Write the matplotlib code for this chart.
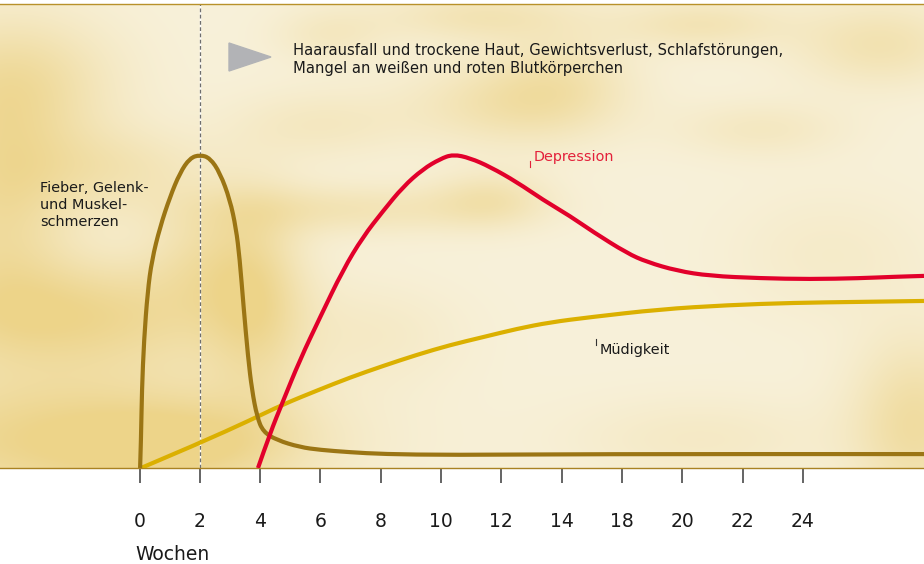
import numpy as np
import matplotlib
matplotlib.use("Agg")
import matplotlib.pyplot as plt
from matplotlib.patches import Polygon, PathPatch
from matplotlib.path import Path

# tick positions and their labels (16 is skipped in the original)
tick_pos = [0, 2, 4, 6, 8, 10, 12, 14, 16, 18, 20, 22]
tick_labels = ["0", "2", "4", "6", "8", "10", "12", "14", "18", "20", "22", "24"]

# symptom curves (x = tick position, y = intensity 0..100)
fever_x = [0.02, 0.05, 0.08, 0.15, 0.27, 0.41, 0.68, 1.01, 1.34, 1.67, 2.01, 2.34,
           2.67, 3.00, 3.20, 3.32, 3.45, 3.60, 3.73, 3.90, 4.10, 4.56, 5.32, 5.99,
           6.98, 8.08, 10.30, 14.94, 26.02]
fever_y = [0.0, 6.0, 16.8, 27.6, 38.0, 44.8, 51.9, 58.4, 63.6, 66.8, 67.5, 66.8,
           63.6, 57.8, 51.7, 45.3, 34.9, 23.9, 16.8, 11.0, 7.8, 6.0, 4.5, 3.9,
           3.4, 3.0, 2.8, 3.0, 3.0]

depr_x = [3.93, 4.33, 4.76, 5.32, 5.99, 6.75, 7.41, 8.08, 8.74, 9.40, 9.97, 10.40,
          10.96, 11.63, 12.52, 13.38, 14.28, 15.04, 16.17, 16.83, 17.83, 18.92,
          20.58, 22.24, 23.89, 24.99, 26.02]
depr_y = [0.0, 7.5, 14.4, 23.3, 32.5, 42.7, 49.8, 55.4, 60.6, 64.4, 66.6, 67.6,
          66.8, 64.9, 61.6, 57.8, 54.3, 50.9, 46.3, 44.4, 42.5, 41.4,
          40.9, 40.7, 40.9, 41.2, 41.4]

tired_x = [0.05, 2.01, 3.67, 4.76, 5.89, 6.98, 8.08, 9.20, 10.30, 11.39, 12.52,
           13.62, 14.94, 17.26, 19.49, 21.68, 23.89, 26.02]
tired_y = [0.0, 5.4, 10.3, 13.7, 16.7, 19.5, 22.0, 24.4, 26.5, 28.2, 30.0,
           31.4, 32.5, 34.2, 35.1, 35.6, 35.8, 36.0]

c_fever = "#9b7514"
c_depr = "#e2002b"
c_tired = "#dbb000"

W, H = 924, 564
fig = plt.figure(figsize=(W / 100, H / 100), dpi=100)
ax = fig.add_axes([0, (H - 468) / H, 1, 464 / H])

xmin, xmax = -139.5 / 30.15, (924 - 139.5) / 30.15

# mottled paper background
bw, bh = 924, 464
yy, xx = np.mgrid[0:bh, 0:bw]
blobs = [  # cx, cy, sx, sy, strength (pixels, from top-left)
    (15, 80, 70, 50, 0.7), (70, 310, 120, 40, 0.9), (60, 435, 160, 50, 0.95),
    (0, 200, 50, 70, 0.7), (255, 290, 35, 70, 0.7), (340, 205, 110, 18, 0.45),
    (490, 195, 40, 20, 0.45), (505, 100, 70, 30, 0.5), (560, 75, 50, 35, 0.4),
    (480, 12, 70, 18, 0.45), (700, 20, 60, 18, 0.45), (880, 40, 60, 30, 0.5),
    (760, 125, 60, 20, 0.3), (915, 420, 45, 60, 0.7), (700, 435, 90, 30, 0.25),
    (190, 440, 80, 30, 0.5), (380, 330, 60, 35, 0.2), (830, 250, 70, 45, 0.2),
    (320, 120, 60, 25, 0.3), (110, 165, 70, 30, 0.45), (330, 30, 40, 20, 0.3),
    (200, 250, 40, 40, 0.4),
]
shade = np.zeros((bh, bw))
for cx, cy, sx, sy, a in blobs:
    shade += a * np.exp(-0.5 * ((xx - cx) / sx) ** 2 - 0.5 * ((yy - cy) / sy) ** 2)
shade = np.clip(shade, 0, 1)[..., None]
light = np.array([248, 241, 218]) / 255
dark = np.array([237, 212, 138]) / 255
img = light * (1 - shade) + dark * shade
ax.imshow(img, extent=(xmin, xmax, 0, 100), aspect="auto", zorder=0, interpolation="bilinear")

# dashed marker at week 2
ax.axvline(2, color="white", lw=1.0, zorder=1)
ax.axvline(2, color="#6e6e6e", lw=0.9, ls=(0, (3, 2)), zorder=1.1)


def smooth_line(xs, ys, color, z):
    # quadratic bezier through the midpoints of the read points
    pts = np.column_stack([xs, ys])
    verts = [pts[0]]
    codes = [Path.MOVETO]
    for i in range(1, len(pts) - 1):
        verts += [pts[i], (pts[i] + pts[i + 1]) / 2]
        codes += [Path.CURVE3, Path.CURVE3]
    verts.append(pts[-1])
    codes.append(Path.LINETO)
    ax.add_patch(PathPatch(Path(verts, codes), facecolor="none", edgecolor=color,
                           lw=3.0, capstyle="butt", zorder=z))


smooth_line(tired_x, tired_y, c_tired, 3)
smooth_line(fever_x, fever_y, c_fever, 4)
smooth_line(depr_x, depr_y, c_depr, 5)

ax.set_xlim(xmin, xmax)
ax.set_ylim(0, 100)

for s in ["left", "right"]:
    ax.spines[s].set_visible(False)
ax.spines["top"].set_color("#b8912a")
ax.spines["top"].set_linewidth(1.0)
ax.spines["bottom"].set_color("#a98222")
ax.spines["bottom"].set_linewidth(1.0)

ax.set_yticks([])
ax.set_xticks(tick_pos)
ax.set_xticklabels(tick_labels)
ax.tick_params(axis="x", direction="out", length=11, width=1.1, color="#3a3a3a",
               pad=21, labelsize=13.5, labelcolor="#1a1a1a")


def px(x, y):
    # pixel position inside the plot area -> axes fraction
    return x / 924, (468 - y) / 464


ax.add_patch(Polygon([px(229, 43), px(229, 71), px(271, 57)], closed=True,
                     transform=ax.transAxes, color="#b2b3b6", zorder=6))

ax.text(*px(293, 43), "Haarausfall und trockene Haut, Gewichtsverlust, Schlafstörungen,\n"
        "Mangel an weißen und roten Blutkörperchen", transform=ax.transAxes,
        fontsize=10.6, va="top", ha="left", linespacing=1.25, color="#1a1a1a")
ax.text(*px(40, 181), "Fieber, Gelenk-\nund Muskel-\nschmerzen", transform=ax.transAxes,
        fontsize=10.4, va="top", ha="left", linespacing=1.25, color="#1a1a1a")
ax.text(*px(534, 150), "Depression", transform=ax.transAxes,
        fontsize=10.4, va="top", ha="left", color="#e3203a")
ax.plot(*zip(px(530, 161), px(530, 167)), transform=ax.transAxes, color="#e3203a", lw=0.8)
ax.text(*px(600, 343), "Müdigkeit", transform=ax.transAxes,
        fontsize=10.4, va="top", ha="left", color="#1a1a1a")
ax.plot(*zip(px(596, 339), px(596, 345)), transform=ax.transAxes, color="#333333", lw=0.8)

fig.text(135 / W, 1 - 554 / H, "Wochen", fontsize=13.5, ha="left", va="center", color="#1a1a1a")

fig.savefig("out.png", dpi=100)
